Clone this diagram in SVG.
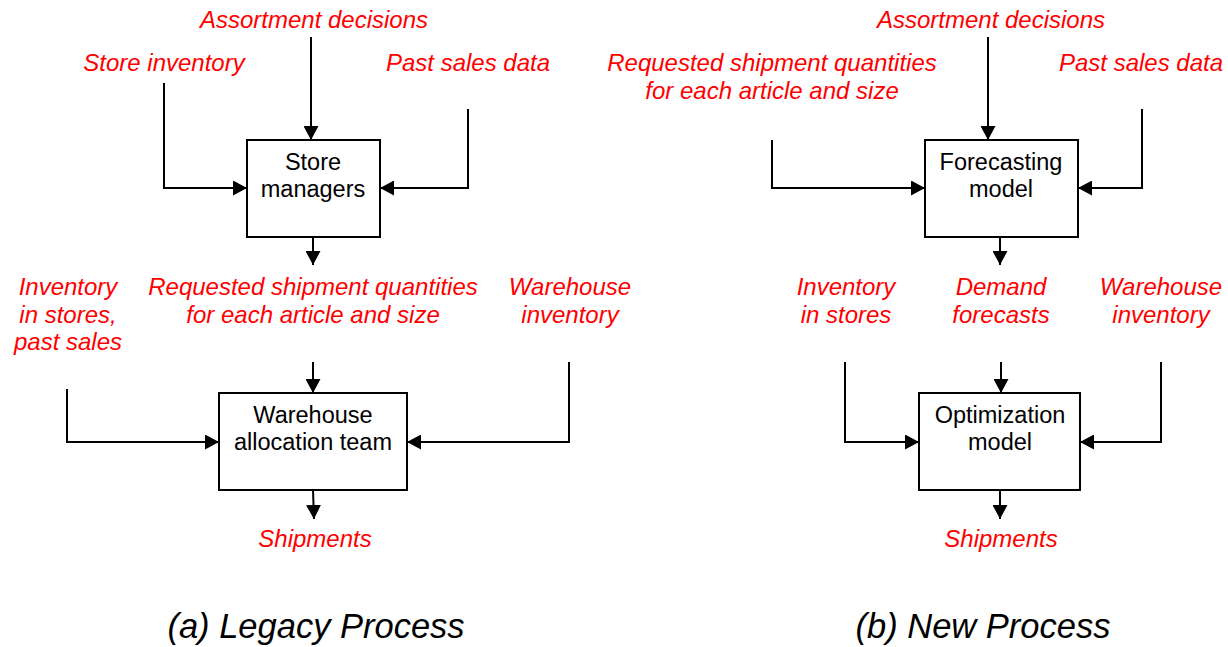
<svg xmlns="http://www.w3.org/2000/svg" width="1228" height="647" viewBox="0 0 1228 647">
<style>
.lbl{font-family:"Liberation Sans",Arial,sans-serif;font-style:italic;font-size:24px;fill:#FF0000;text-anchor:middle}
.nt{font-family:"Liberation Sans",Arial,sans-serif;font-size:23.5px;fill:#000;text-anchor:middle}
.ttl{font-family:"Liberation Sans",Arial,sans-serif;font-style:italic;font-size:34.5px;fill:#000;text-anchor:middle}
.box{fill:#fff;stroke:#000;stroke-width:2}
.ln{fill:none;stroke:#000;stroke-width:2;marker-end:url(#ah)}
</style>
<defs>
<marker id="ah" markerUnits="userSpaceOnUse" markerWidth="15" markerHeight="15" refX="14" refY="7.5" orient="auto" viewBox="0 0 15 15">
<path d="M0,0 L14,7.5 L0,15 z" fill="#000"/>
</marker>
</defs>
<rect width="1228" height="647" fill="#fff"/>
<g id="connectors">
<path class="ln" d="M311,37 V140"/>
<path class="ln" d="M164,83 V188 H247"/>
<path class="ln" d="M468,109 V188 H380"/>
<path class="ln" d="M313,237 V265"/>
<path class="ln" d="M313,362 V393"/>
<path class="ln" d="M67,389 V442 H219"/>
<path class="ln" d="M569,362 V442 H407"/>
<path class="ln" d="M313,490 L314,519"/>
<path class="ln" d="M988,37 V140"/>
<path class="ln" d="M772,140 V188 H925"/>
<path class="ln" d="M1142,109 V188 H1078"/>
<path class="ln" d="M1000,237 V265"/>
<path class="ln" d="M1001,362 V393"/>
<path class="ln" d="M845,362 V442 H919"/>
<path class="ln" d="M1161,362 V442 H1080"/>
<path class="ln" d="M1000,490 V519"/>
</g>
<g id="store-managers">
<rect class="box" x="247" y="140" width="133" height="97"/>
<text class="nt" x="313" y="170">Store</text>
<text class="nt" x="313" y="197">managers</text>
</g>
<g id="warehouse-allocation-team">
<rect class="box" x="219" y="393" width="188" height="97"/>
<text class="nt" x="313" y="423">Warehouse</text>
<text class="nt" x="313" y="450">allocation team</text>
</g>
<g id="forecasting-model">
<rect class="box" x="925" y="140" width="153" height="97"/>
<text class="nt" x="1001" y="170">Forecasting</text>
<text class="nt" x="1001" y="197">model</text>
</g>
<g id="optimization-model">
<rect class="box" x="919" y="393" width="161" height="97"/>
<text class="nt" x="1000" y="423">Optimization</text>
<text class="nt" x="1000" y="450">model</text>
</g>
<g id="labels-a">
<text class="lbl" x="314" y="28">Assortment decisions</text>
<text class="lbl" x="164" y="71">Store inventory</text>
<text class="lbl" x="468" y="71">Past sales data</text>
<text class="lbl" x="68" y="295">Inventory</text>
<text class="lbl" x="68" y="323">in stores,</text>
<text class="lbl" x="68" y="350">past sales</text>
<text class="lbl" x="313" y="295">Requested shipment quantities</text>
<text class="lbl" x="313" y="323">for each article and size</text>
<text class="lbl" x="570" y="295">Warehouse</text>
<text class="lbl" x="570" y="323">inventory</text>
<text class="lbl" x="315" y="547">Shipments</text>
<text class="ttl" x="316" y="638">(a) Legacy Process</text>
</g>
<g id="labels-b">
<text class="lbl" x="991" y="28">Assortment decisions</text>
<text class="lbl" x="772" y="71">Requested shipment quantities</text>
<text class="lbl" x="772" y="99">for each article and size</text>
<text class="lbl" x="1141" y="71">Past sales data</text>
<text class="lbl" x="846" y="295">Inventory</text>
<text class="lbl" x="846" y="323">in stores</text>
<text class="lbl" x="1001" y="295">Demand</text>
<text class="lbl" x="1001" y="323">forecasts</text>
<text class="lbl" x="1161" y="295">Warehouse</text>
<text class="lbl" x="1161" y="323">inventory</text>
<text class="lbl" x="1001" y="547">Shipments</text>
<text class="ttl" x="983" y="638">(b) New Process</text>
</g>
</svg>
